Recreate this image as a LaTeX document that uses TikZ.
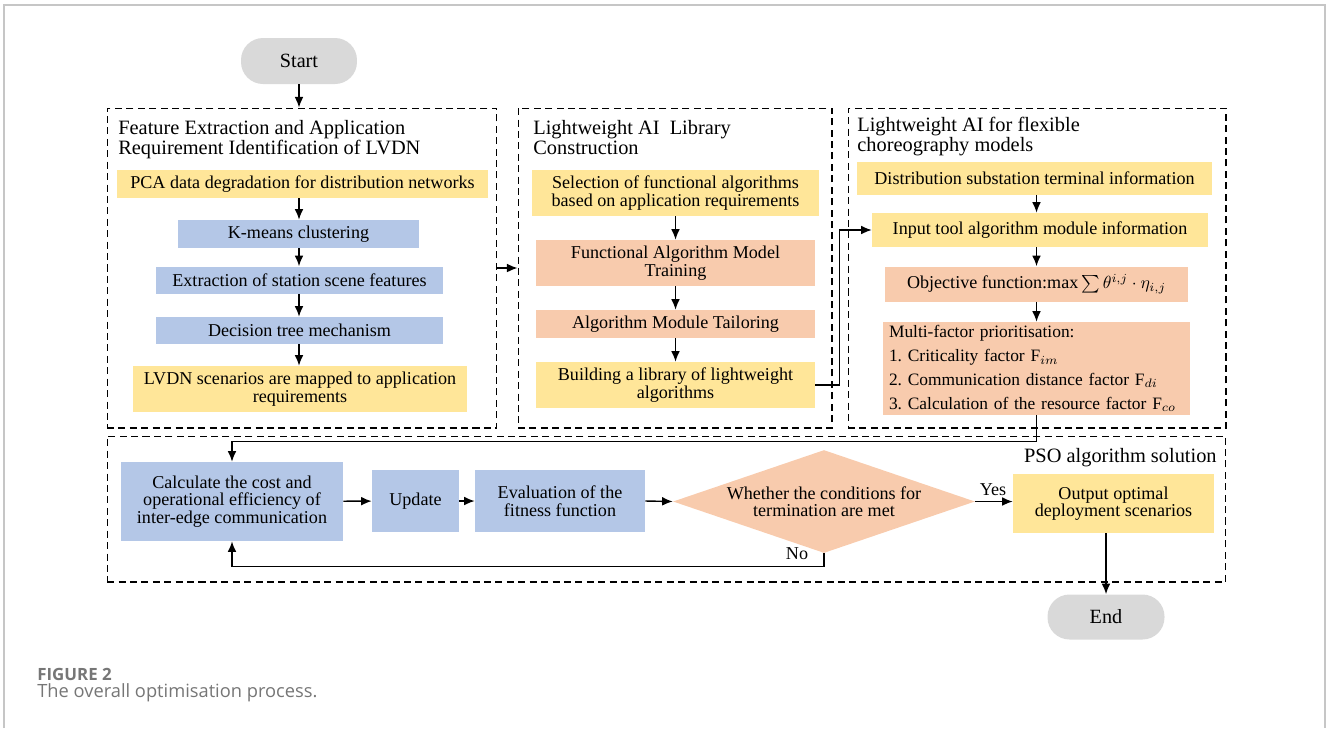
\documentclass[tikz,border=0pt]{standalone}
\usepackage{fontspec}
\setmainfont{Liberation Serif}
\newfontfamily\capfont{Open Sans}
\usetikzlibrary{shapes.geometric, arrows.meta}
\frenchspacing

\definecolor{boxyellow}{HTML}{FFE699}
\definecolor{boxblue}{HTML}{B4C7E7}
\definecolor{boxsalmon}{HTML}{F8CBAD}
\definecolor{termgray}{HTML}{D9D9D9}
\definecolor{capgray}{HTML}{767676}

\tikzset{
  yel/.style={rectangle, fill=boxyellow, align=center, inner sep=1pt},
  blu/.style={rectangle, fill=boxblue, align=center, inner sep=1pt},
  sal/.style={rectangle, fill=boxsalmon, align=center, inner sep=1pt},
  term/.style={rectangle, rounded corners=0.44cm, fill=termgray, font=\fontsize{11.5}{12}\selectfont},
  grp/.style={draw, dash pattern=on 4pt off 2.5pt, line width=0.6pt, inner sep=0pt},
  grptitle/.style={anchor=north west, align=left, inner sep=0pt, font=\fontsize{11.6}{11.3}\selectfont},
  arr/.style={-{Latex[length=6pt,width=5pt]}, line width=0.8pt},
}

\begin{document}
\begin{tikzpicture}[x=0.02cm, y=-0.02cm, font=\fontsize{10.3}{10}\selectfont]
        \useasboundingbox (0,0) rectangle (1328,728);
        \draw[gray!45, line width=1.2pt] (4,728) -- (4,5) -- (1325,5) -- (1325,728);

        % Groups
        \node[grp, minimum width=7.8cm, minimum height=6.4cm] (g1) at (302,268) {};
        \node[grp, minimum width=6.28cm, minimum height=6.4cm] (g2) at (675,268) {};
        \node[grp, minimum width=7.56cm, minimum height=6.4cm] (g3) at (1037,268) {};
        \node[grp, minimum width=22.38cm, minimum height=2.92cm] (g4) at (666.5,509) {};

        \node[grptitle] (t1) at (118,120) {Feature Extraction and Application\\Requirement Identification of LVDN};
        \node[grptitle] (t2) at (533,120) {Lightweight AI\ \ Library\\Construction};
        \node[grptitle] (t3) at (857,117) {Lightweight AI for flexible\\choreography models};
        \node[anchor=east, inner sep=0pt, font=\fontsize{11.6}{12}\selectfont] (t4) at (1217,458) {PSO algorithm solution};

        % Nodes
        \node[term, minimum width=2.32cm, minimum height=0.92cm] (start) at (299,61) {Start};

        \node[yel, minimum width=7.42cm, minimum height=0.56cm] (pca) at (302.5,184) {PCA data degradation for distribution networks};
        \node[blu, minimum width=4.82cm, minimum height=0.56cm] (kmeans) at (298.5,234) {K-means clustering};
        \node[blu, minimum width=5.74cm, minimum height=0.54cm] (extract) at (299.5,280) {Extraction of station scene features};
        \node[blu, minimum width=5.74cm, minimum height=0.54cm] (tree) at (299.5,330.5) {Decision tree mechanism};
        \node[yel, minimum width=6.68cm, minimum height=0.92cm] (map) at (300,389) {LVDN scenarios are mapped to application\\requirements};

        \node[yel, minimum width=5.74cm, minimum height=0.92cm] (select) at (675.5,193) {Selection of functional algorithms\\based on application requirements};
        \node[sal, minimum width=5.58cm, minimum height=0.92cm] (train) at (675.5,263) {Functional Algorithm Model\\Training};
        \node[sal, minimum width=5.58cm, minimum height=0.56cm] (tailor) at (675.5,324) {Algorithm Module Tailoring};
        \node[yel, minimum width=5.58cm, minimum height=0.92cm] (build) at (675.5,385) {Building a library of lightweight\\algorithms};

        \node[yel, minimum width=7.1cm, minimum height=0.66cm] (dist) at (1034.5,178) {Distribution substation terminal information};
        \node[yel, minimum width=6.72cm, minimum height=0.68cm] (input) at (1040,230) {Input tool algorithm module information};
        \node[sal, minimum width=6.06cm, minimum height=0.7cm] (obj) at (1036.5,284) {Objective function:$\max\sum\theta^{i,j}\cdot\eta_{i,j}$};
        \node[sal, minimum width=6.14cm, minimum height=1.86cm, align=left, text width=5.9cm, inner xsep=0.12cm,
              font=\fontsize{9.9}{13.6}\selectfont] (multi) at (1036.5,368.5)
              {Multi-factor prioritisation:\\1. Criticality factor F$_{im}$\\2. Communication distance factor F$_{di}$\\3. Calculation of the resource factor F$_{co}$};

        \node[blu, minimum width=4.44cm, minimum height=1.58cm] (calc) at (232,501.5) {Calculate the cost and\\operational efficiency of\\inter-edge communication};
        \node[blu, minimum width=1.74cm, minimum height=1.24cm] (update) at (415.5,501) {Update};
        \node[blu, minimum width=3.4cm, minimum height=1.24cm] (eval) at (560,501) {Evaluation of the\\fitness function};
        \node[diamond, fill=boxsalmon, align=center, inner sep=1pt, shape aspect=3,
              minimum width=6.04cm, minimum height=2.06cm] (cond) at (824,501.5) {Whether the conditions for\\termination are met};
        \node[yel, minimum width=4.02cm, minimum height=1.18cm] (out) at (1113.5,503.5) {Output optimal\\deployment scenarios};
        \node[term, minimum width=2.34cm, minimum height=0.9cm] (stop) at (1106,617) {End};

        \node (yes) at (993,490) {Yes};
        \node (no) at (797,554) {No};

        % Edges
        \draw[arr] (start) -- (g1.north -| start.south);
        \draw[arr] (pca.south -| start.south) -- (kmeans.north -| start.south);
        \draw[arr] (kmeans.south -| start.south) -- (extract.north -| start.south);
        \draw[arr] (extract.south -| start.south) -- (tree.north -| start.south);
        \draw[arr] (tree.south -| start.south) -- (map.north -| start.south);
        \draw[arr] (g1.east) -- (g2.west);

        \draw[arr] (select) -- (train);
        \draw[arr] (train) -- (tailor);
        \draw[arr] (tailor) -- (build);
        \draw[arr] (build.east) -- ++(24,0) |- (input.west);

        \draw[arr] (dist.south -| obj.north) -- (input.north -| obj.north);
        \draw[arr] (input.south -| obj.north) -- (obj.north);
        \draw[arr] (obj) -- (multi);
        \draw[arr] (multi.south) -- ++(0,26) -| (calc.north);

        \draw[arr] (calc) -- (update);
        \draw[arr] (update) -- (eval);
        \draw[arr] (eval.east) -- (cond.west);
        \draw[arr] (cond.east) -- (cond.east -| out.west);
        \draw[arr] (cond.south) -- ++(0,13) -| (calc.south);
        \draw[arr] (out.south -| stop.north) -- (stop.north);

        % Caption
        \node[anchor=west, inner sep=0pt, text=capgray, font=\capfont\bfseries\fontsize{9.6}{10}\selectfont] (figno) at (37,674) {FIGURE 2};
        \node[anchor=west, inner sep=0pt, text=capgray, font=\capfont\fontsize{10.4}{12}\selectfont] (figcap) at (37,693) {The overall optimisation process.};
\end{tikzpicture}
\end{document}
